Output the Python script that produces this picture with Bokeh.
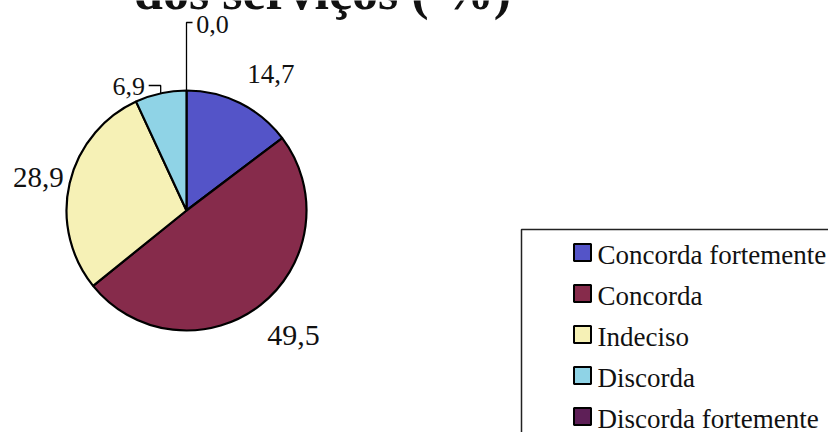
import numpy as np
from bokeh.plotting import figure
from bokeh.models import Range1d, ColumnDataSource
from bokeh.core.properties import value
from bokeh.embed import file_html
from bokeh.resources import INLINE

# Survey answers (%)
categories = ["Concorda fortemente", "Concorda", "Indeciso", "Discorda", "Discorda fortemente"]
percent = [14.7, 49.5, 28.9, 6.9, 0.0]
percent_labels = ["14,7", "49,5", "28,9", "6,9", "0,0"]
colors = ["#5454c8", "#862b4b", "#f6f1b6", "#8fd3e6", "#5e1f57"]
title_text = "dos serviços ( %)"

W, H = 828, 432
p = figure(width=W, height=H, output_backend="svg", toolbar_location=None,
           x_range=Range1d(0, W), y_range=Range1d(0, H), min_border=0)
p.axis.visible = False
p.grid.visible = False
p.outline_line_color = None
p.background_fill_color = "white"
p.border_fill_color = "white"

FONT = value("Liberation Serif")

# pie geometry (pixels, y measured upwards)
cx, cy, R = 186, 222, 120

vals = np.array(percent, dtype=float)
frac = vals / vals.sum()
ends = np.pi / 2 - 2 * np.pi * np.cumsum(frac)
starts = np.concatenate([[np.pi / 2], ends[:-1]])
mids = (starts + ends) / 2

# only slices with a non-zero share get a wedge
keep = vals > 0
src = ColumnDataSource(dict(start=ends[keep], end=starts[keep],
                            color=[c for c, k in zip(colors, keep) if k]))
p.wedge(x=cx, y=cy, radius=R, start_angle="start", end_angle="end",
        fill_color="color", line_color="black", line_width=2.2, source=src)

# value labels: radial anchor from the slice middle, with a small nudge
label_r = [158, 164, 152, 0, 0]
nudge = [(14, -5), (6, 4), (0, -2), (0, 0), (0, 0)]
label_size = ["27px", "30px", "29px", "26px", "26px"]
lx, ly = [], []
for i, m in enumerate(mids):
    ex, ey = cx + R * np.cos(m), cy + R * np.sin(m)
    if percent[i] == 0.0:
        # zero slice: leader runs straight up from the rim
        top = H - 22
        p.line([ex, ex, ex + 6], [ey, top, top], line_color="black", line_width=1.3)
        lx.append(ex + 26)
        ly.append(H - 24)
    elif frac[i] < 0.1:
        # thin slice: short elbow leader to the label on the left
        knee = H - 85
        p.line([ex, ex, ex - 12], [ey, knee, knee], line_color="black", line_width=1.3)
        lx.append(ex - 32)
        ly.append(H - 86)
    else:
        lx.append(cx + label_r[i] * np.cos(m) + nudge[i][0])
        ly.append(cy + label_r[i] * np.sin(m) + nudge[i][1])

lab_src = ColumnDataSource(dict(x=lx, y=ly, text=percent_labels, size=label_size))
p.text(x="x", y="y", text="text", text_font_size="size", source=lab_src,
       text_font=FONT, text_align="center", text_baseline="middle", text_color="#111111")

# title (second line, partly above the page)
p.text(x=[322], y=[H + 9], text=[title_text], text_font=FONT, text_font_size="52px",
       text_font_style="bold", text_align="center", text_baseline="alphabetic",
       text_color="#111111")

# legend box and entries
p.quad(left=[521], right=[W + 20], top=[H - 229], bottom=[-20],
       fill_color="white", line_color="#222222", line_width=1.5)
row_y = [H - 252 - 41 * k for k in range(len(categories))]
p.rect(x=[582] * len(categories), y=row_y, width=17, height=17,
       width_units="screen", height_units="screen",
       fill_color=colors, line_color="black", line_width=2)
p.text(x=[597] * len(categories), y=[y - 2 for y in row_y], text=categories,
       text_font=FONT, text_font_size="27px", text_align="left",
       text_baseline="middle", text_color="#111111")

open("out.html", "w").write(file_html(p, INLINE))
